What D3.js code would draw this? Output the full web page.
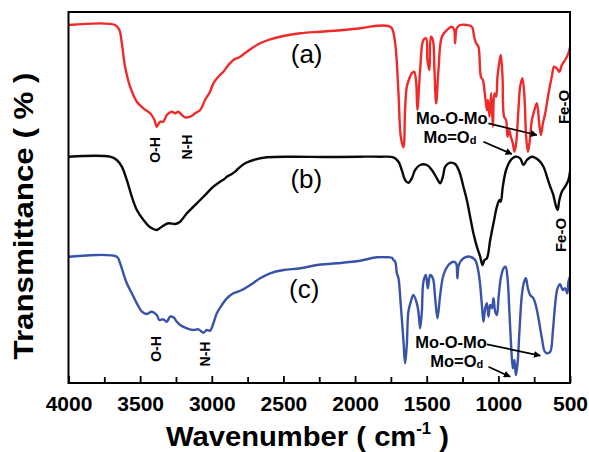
<!DOCTYPE html>
<html>
<head>
<meta charset="utf-8">
<script src="https://cdn.jsdelivr.net/npm/d3@7"></script>
<style>
  html, body { margin: 0; padding: 0; background: #fff; }
  svg { display: block; font-family: Arial, "Liberation Sans", sans-serif; }
</style>
</head>
<body>
<svg id="chart" width="589" height="452"></svg>
<script>
// ---- data (wavenumber in cm^-1, transmittance in arbitrary offset units) ----
const xTicks = [4000, 3500, 3000, 2500, 2000, 1500, 1000, 500];
const xMinorTicks = [3750, 3250, 2750, 2250, 1750, 1250, 750];

const waveA = [4000,3675,3645,3628,3605,3570,3523,3477,3430,3400,3384,3361,3338,3314,3279,3256,3233,3209,3186,3151,3116,3081,3047,3012,2989,2954,2919,2884,2849,2802,2755,2721,2663,2593,2500,2383,2244,2081,1965,1848,1767,1743,1720,1697,1681,1662,1651,1639,1621,1604,1588,1574,1565,1546,1523,1504,1495,1481,1471,1457,1446,1434,1418,1394,1359,1325,1308,1302,1290,1267,1220,1185,1169,1155,1139,1122,1108,1092,1080,1073,1062,1050,1038,1027,1015,1006,994,983,971,960,946,936,925,913,899,888,876,860,848,832,818,806,794,783,766,748,731,715,703,689,673,650,627,611,592,574,557,534,511,500];
const transA = [358,358,353,339.7,316.3,296.3,281.3,274.7,269.7,263,256.3,261.3,261.3,268,271.3,269.7,271.3,268,265.7,266.3,269.7,273,283,291.3,299.7,306.3,311.3,318,323,326.3,331.3,334.7,339.7,343.7,347,349.7,351.3,353,354.7,357.3,357,354.7,339.7,289.7,246.3,235.7,273,296.3,304.7,309.7,311.3,301.3,273,313,343,344.7,323,313,346.3,343,313,279.7,313,346.3,353,356.3,353,339.7,354.7,358,358,356.3,346.3,339.7,336.3,306.3,303,286.3,273,283,266.3,289.7,256.3,289.7,286.3,306.3,319.7,328,306.3,266.3,263,246.3,253,246.3,239.7,231.3,239.7,273,296.3,304.7,286.3,246.3,231.3,239.7,263,273,279.7,259.7,248,259.7,269.7,289.7,306.3,316.3,314.7,311.3,318,323,329.7,335.7];

const waveB = [4000,3710,3663,3628,3593,3558,3523,3477,3430,3384,3349,3303,3256,3221,3174,3128,3081,3035,2989,2942,2914,2895,2860,2837,2814,2767,2709,2616,2430,2197,1965,1825,1732,1697,1674,1651,1628,1604,1581,1546,1499,1464,1429,1406,1387,1371,1336,1302,1272,1244,1220,1197,1174,1150,1127,1111,1097,1080,1057,1034,1010,992,983,969,946,913,883,848,825,801,766,720,685,661,638,620,611,597,587,574,557,534,511,500];
const transB = [226.3,226.3,223,216.3,203,186.3,173,163,155.7,153,156.3,159.7,159,161.3,169.7,176.3,183,189.7,196.3,201.3,203.7,206.3,209,211.3,214.7,219.7,223,225.7,226.3,226,226.3,226.3,225.7,221.3,213,203,200.3,204.7,213,218,218,213,204.7,199.7,206.3,216.3,220.3,219,211.3,196.3,183,166.3,149.7,136.3,126.3,118,123,124.7,143,159.7,176.3,183,181.3,196.3,213,223,226.3,224.7,218,223,226.3,223,216.3,206.3,196.3,189.7,184.7,176.3,173,183,191.3,196.3,203,211.3];

const waveC = [4000,3663,3640,3617,3593,3558,3523,3488,3453,3419,3384,3366,3338,3314,3291,3268,3244,3221,3174,3128,3093,3058,3035,3012,2989,2965,2930,2895,2849,2790,2732,2663,2593,2500,2383,2267,2127,1965,1848,1767,1743,1732,1720,1708,1697,1681,1662,1651,1639,1628,1611,1593,1569,1558,1546,1534,1523,1506,1492,1476,1457,1441,1425,1406,1383,1348,1313,1295,1286,1276,1244,1197,1162,1139,1127,1115,1104,1092,1080,1069,1057,1045,1034,1022,1010,999,983,964,950,936,923,911,899,888,878,867,853,836,820,808,794,778,755,736,720,696,678,661,638,620,604,587,569,550,534,519,511,500];
const transC = [126.3,126.3,119.7,109.7,99.7,89.7,79.7,71.3,69,71.3,68,63,63.7,61.3,66.3,65.7,61.3,58,54.7,53,53.7,50.3,53,52.3,59.7,69.7,78,84.7,89.7,93,98,104.7,109.7,113,114.7,118,119.7,122.3,125.7,125.7,125.3,123,121.3,109.7,104.7,78,41.3,19.7,38,71.3,81.3,88,79.7,71.3,54.7,71.3,101.3,108,94.7,108,104.7,84.7,64.7,88,108,118,121.3,119.7,104.7,118,124.7,126.3,123,111.3,98,78,61.3,74.7,79.7,66.3,78,74.7,84.7,71.3,68,84.7,104.7,114.7,116.3,104.7,71.3,38,14.7,23,8,18,51.3,88,101.3,104.7,94.7,88,84.7,76.3,64.7,44.7,32,29.7,31.3,51.3,78,94.7,98.7,93,94.7,89.7,101.3,106.3];

const seriesNames = ["a", "b", "c"];
const seriesColors = ["#ee2a2a", "#0a0a0a", "#3853a8"];

// annotation texts (wavenumber / value anchors)
const seriesLabels = [
  { text: "(a)", w: 2338, v: 320.5 },
  { text: "(b)", w: 2340, v: 195.5 },
  { text: "(c)", w: 2355, v: 85.5 }
];
const bandLabels = [
  { text: "O-H", w: 3396, v: 233, size: 14 },
  { text: "N-H", w: 3170, v: 236, size: 14 },
  { text: "O-H", w: 3390, v: 34, size: 14 },
  { text: "N-H", w: 3047, v: 29, size: 14 },
  { text: "Fe-O", w: 546, v: 276, size: 15 },
  { text: "Fe-O", w: 564, v: 148, size: 15 }
];
const moLabels = [
  { main: "Mo-O-Mo", sub: "", w: 1325, v: 259.5 },
  { main: "Mo=O", sub: "d", w: 1338, v: 240.5 },
  { main: "Mo-O-Mo", sub: "", w: 1330, v: 35.5 },
  { main: "Mo=O", sub: "d", w: 1290, v: 16 }
];
const arrows = [
  { w1: 1069, v1: 259.7, w2: 731, v2: 248 },
  { w1: 1104, v1: 241.3, w2: 906, v2: 229 },
  { w1: 1080, v1: 38.7, w2: 708, v2: 27.3 },
  { w1: 1069, v1: 16.3, w2: 918, v2: 6.3 }
];

// ---- drawing ----
const svg = d3.select("#chart");
const mLeft = 68.5, mRight = 570, mTop = 12, mBottom = 383;

const x = d3.scaleLinear().domain([4000, 500]).range([mLeft, mRight]);
const y = d3.scaleLinear().domain([0, 371]).range([mBottom, mTop]);

const defs = svg.append("defs");
defs.append("marker")
  .attr("id", "arrowhead")
  .attr("viewBox", "0 0 10 10")
  .attr("refX", 9).attr("refY", 5)
  .attr("markerWidth", 7).attr("markerHeight", 7)
  .attr("markerUnits", "userSpaceOnUse")
  .attr("orient", "auto")
  .append("path").attr("d", "M0,0 L10,5 L0,10 Z").attr("fill", "#000");
defs.append("clipPath").attr("id", "plotclip")
  .append("rect").attr("x", mLeft).attr("y", mTop).attr("width", mRight - mLeft).attr("height", mBottom - mTop);

const waves = [waveA, waveB, waveC];
const trans = [transA, transB, transC];

const line = d3.line()
  .x(d => x(d[0]))
  .y(d => y(d[1]))
  .curve(d3.curveCatmullRom.alpha(0.5));

seriesNames.forEach((name, i) => {
  const pts = waves[i].map((w, j) => [w, trans[i][j]]);
  svg.append("path")
    .datum(pts)
    .attr("clip-path", "url(#plotclip)")
    .attr("fill", "none")
    .attr("stroke", seriesColors[i])
    .attr("stroke-width", 2.4)
    .attr("stroke-linejoin", "round")
    .attr("d", line);
});

// bottom axis with inward ticks
const axisG = svg.append("g").attr("transform", `translate(0,${mBottom})`);
axisG.call(d3.axisBottom(x).tickValues(xTicks).tickSize(-7).tickPadding(13).tickFormat(d3.format("d")));
axisG.select(".domain").remove();
axisG.selectAll(".tick line").attr("stroke", "#000").attr("stroke-width", 1.8);
axisG.selectAll(".tick text")
  .attr("font-size", 21).attr("font-weight", "bold").attr("fill", "#000")
  .attr("font-family", "Arial, 'Liberation Sans', sans-serif");
const minorG = svg.append("g").attr("transform", `translate(0,${mBottom})`);
minorG.call(d3.axisBottom(x).tickValues(xMinorTicks).tickSize(-6).tickFormat(""));
minorG.select(".domain").remove();
minorG.selectAll(".tick line").attr("stroke", "#000").attr("stroke-width", 1.8);

// frame
svg.append("rect")
  .attr("x", mLeft).attr("y", mTop)
  .attr("width", mRight - mLeft).attr("height", mBottom - mTop)
  .attr("fill", "none").attr("stroke", "#000").attr("stroke-width", 2);

// series labels
svg.selectAll(".slabel").data(seriesLabels).enter().append("text")
  .attr("x", d => x(d.w)).attr("y", d => y(d.v))
  .attr("text-anchor", "middle")
  .attr("font-size", 26).attr("fill", "#000")
  .text(d => d.text);

// rotated band labels
svg.selectAll(".blabel").data(bandLabels).enter().append("text")
  .attr("transform", d => `translate(${x(d.w)},${y(d.v)}) rotate(-90)`)
  .attr("text-anchor", "middle")
  .attr("dominant-baseline", "central")
  .attr("font-size", d => d.size).attr("font-weight", "bold").attr("fill", "#000")
  .text(d => d.text);

// Mo labels
const ml = svg.selectAll(".mlabel").data(moLabels).enter().append("text")
  .attr("x", d => x(d.w)).attr("y", d => y(d.v))
  .attr("text-anchor", "middle")
  .attr("font-size", 16.5).attr("font-weight", "bold").attr("fill", "#000");
ml.append("tspan").text(d => d.main);
ml.append("tspan").attr("font-size", 11).attr("dy", 1).text(d => d.sub);

// arrows
svg.selectAll(".arrow").data(arrows).enter().append("line")
  .attr("x1", d => x(d.w1)).attr("y1", d => y(d.v1))
  .attr("x2", d => x(d.w2)).attr("y2", d => y(d.v2))
  .attr("stroke", "#000").attr("stroke-width", 1.7)
  .attr("marker-end", "url(#arrowhead)");

// axis titles
const xt = svg.append("text")
  .attr("x", 166).attr("y", 445.5)
  .attr("text-anchor", "start")
  .attr("textLength", 283).attr("lengthAdjust", "spacingAndGlyphs")
  .attr("font-size", 28).attr("font-weight", "bold").attr("fill", "#000");
xt.append("tspan").text("Wavenumber ( cm");
xt.append("tspan").attr("font-size", 16).attr("dy", -12).text("-1");
xt.append("tspan").attr("dy", 12).text(" )");

svg.append("text")
  .attr("transform", "translate(33,216) rotate(-90)")
  .attr("text-anchor", "middle")
  .attr("textLength", 287).attr("lengthAdjust", "spacingAndGlyphs")
  .attr("font-size", 27).attr("font-weight", "bold").attr("fill", "#000")
  .text("Transmittance ( % )");
</script>
</body>
</html>
